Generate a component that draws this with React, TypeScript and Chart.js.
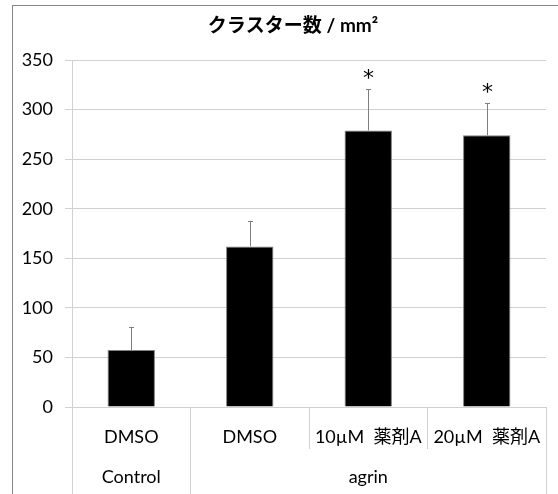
import React, { useEffect, useRef } from "react";
import { Chart, registerables } from "chart.js";

Chart.register(...registerables);

const titleText = "クラスター数 / mm²";
const categories = ["DMSO", "DMSO", "10µM  薬剤A", "20µM  薬剤A"];
const groupLabels = ["Control", "", "agrin", ""];
const values = [57.5, 162, 279, 274];
const errors = [23.5, 26, 42, 33];
const stars = ["", "", "*", "*"];
const yTicks = [0, 50, 100, 150, 200, 250, 300, 350];

const FONT = "Lato, 'Noto Sans CJK JP', sans-serif";
const GRID = "#d0d0d0";
const ERR = "#7f7f7f";

const overlayPlugin = {
  id: "overlay",
  afterDatasetsDraw(chart: any) {
    const ctx = chart.ctx;
    const meta = chart.getDatasetMeta(0);
    const yScale = chart.scales.y;
    ctx.save();
    meta.data.forEach((el: any, i: number) => {
      const top = yScale.getPixelForValue(values[i] + errors[i]);
      const x = Math.round(el.x) + 0.5;
      ctx.strokeStyle = ERR;
      ctx.lineWidth = 1;
      ctx.beginPath();
      ctx.moveTo(x, el.y);
      ctx.lineTo(x, Math.round(top) + 0.5);
      ctx.moveTo(x - 2.5, Math.round(top) + 0.5);
      ctx.lineTo(x + 2.5, Math.round(top) + 0.5);
      ctx.stroke();
      if (stars[i]) {
        ctx.fillStyle = "#000";
        ctx.font = `22px 'DejaVu Sans', sans-serif`;
        ctx.textAlign = "center";
        ctx.textBaseline = "alphabetic";
        ctx.fillText(stars[i], x, top - 4);
      }
    });
    ctx.restore();
  },
  afterDraw(chart: any) {
    const ctx = chart.ctx;
    ctx.save();
    ctx.fillStyle = "#000";
    ctx.font = `bold 19px ${FONT}`;
    ctx.textAlign = "center";
    ctx.textBaseline = "middle";
    ctx.fillText(titleText, 293, 26);
    ctx.restore();
  },
};

export default function App() {
  const ref = useRef<HTMLCanvasElement>(null);
  useEffect(() => {
    if (!ref.current) return;
    const chart = new Chart(ref.current, {
      type: "bar",
      data: {
        labels: categories,
        datasets: [
          {
            data: values,
            backgroundColor: "#000",
            borderColor: "#808080",
            borderWidth: 1,
            barPercentage: 0.4,
            categoryPercentage: 1,
          },
        ],
      },
      options: {
        animation: false,
        responsive: false,
        maintainAspectRatio: false,
        layout: { padding: { top: 60, right: 12, left: 0, bottom: 0 } },
        plugins: {
          legend: { display: false },
          title: { display: false },
          tooltip: { enabled: false },
        },
        scales: {
          y: {
            min: 0,
            max: 350,
            afterFit: (s: any) => {
              s.width = 72;
            },
            afterBuildTicks: (s: any) => {
              s.ticks = yTicks.map((v) => ({ value: v }));
            },
            ticks: {
              color: "#000",
              font: { family: FONT, size: 18 },
              padding: 12,
            },
            grid: { color: GRID, tickLength: 7 },
            border: { color: GRID },
          },
          x: {
            weight: 0,
            offset: true,
            afterFit: (s: any) => {
              s.height = 42;
            },
            ticks: {
              color: "#000",
              font: { family: FONT, size: 18 },
              padding: -23,
              maxRotation: 0,
              autoSkip: false,
            },
            grid: {
              offset: true,
              drawOnChartArea: false,
              tickLength: 42,
              color: GRID,
            },
            border: { color: GRID },
          },
          x2: {
            type: "category",
            position: "bottom",
            weight: 1,
            labels: groupLabels,
            offset: true,
            afterFit: (s: any) => {
              s.height = 45;
            },
            ticks: {
              color: "#000",
              font: { family: FONT, size: 18 },
              padding: -28,
              maxRotation: 0,
              autoSkip: false,
            },
            grid: {
              offset: true,
              drawOnChartArea: false,
              tickLength: 45,
              color: (c: any) =>
                c.type !== "tick" || c.index === 0 || c.index === 1 ? GRID : "rgba(0,0,0,0)",
            },
            border: { display: false },
          },
        },
      } as any,
      plugins: [overlayPlugin],
    });
    return () => chart.destroy();
  }, []);
  return (
    <div style={{ position: "fixed", left: 0, top: 0, width: 558, height: 494, background: "#fff", overflow: "hidden" }}>
      <canvas ref={ref} width={558} height={494} style={{ position: "absolute", left: 0, top: 0 }} />
      <div
        style={{
          position: "absolute",
          left: 12,
          top: 5,
          width: 600,
          height: 600,
          border: "1px solid #868686",
          pointerEvents: "none",
        }}
      />
    </div>
  );
}
